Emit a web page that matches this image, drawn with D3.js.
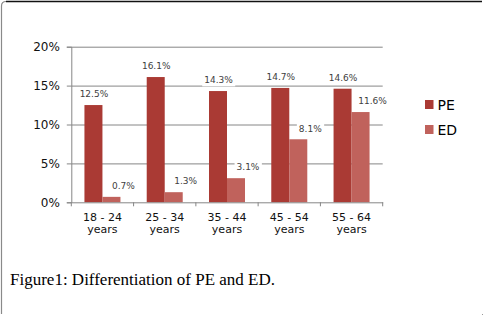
<!DOCTYPE html>
<html>
<head>
<meta charset="utf-8">
<script src="https://cdn.jsdelivr.net/npm/d3@7"></script>
<style>
  html, body { margin: 0; padding: 0; background: #fff; }
  svg { display: block; }
</style>
</head>
<body>
<svg id="chart"></svg>
<script>
const categories = ['18 - 24|years', '25 - 34|years', '35 - 44|years', '45 - 54|years', '55 - 64|years'];
const seriesNames = ['PE', 'ED'];
const peValues = [12.5, 16.1, 14.3, 14.7, 14.6];
const edValues = [0.7, 1.3, 3.1, 8.1, 11.6];
const yTicks = [0, 5, 10, 15, 20];
const caption = 'Figure1: Differentiation of PE and ED.';

const colors = { PE: '#aa3a34', ED: '#c0625c' };
const W = 484, H = 317;
const plot = { left: 71.3, right: 382.7, top: 46.7, bottom: 202.3 };

const svg = d3.select('#chart').attr('width', W).attr('height', H);

// frame (top + left edge of the figure box)
svg.append('path')
  .attr('d', 'M1.5,314 V6 Q1.5,1.5 6,1.5')
  .attr('fill', 'none').attr('stroke', '#8a8a8a').attr('stroke-width', 1.2);
svg.append('path')
  .attr('d', 'M6,1.5 H482')
  .attr('fill', 'none').attr('stroke', '#111').attr('stroke-width', 1.4);
svg.append('rect').attr('x', 482).attr('y', 314).attr('width', 1).attr('height', 1).attr('fill', '#999');

const rows = categories.map((c, i) => ({ cat: c, PE: peValues[i], ED: edValues[i] }));

const x0 = d3.scaleBand().domain(categories).range([plot.left, plot.right]).padding(0);
const x1 = d3.scaleBand().domain(seriesNames).range([0, x0.bandwidth()])
  .paddingInner(0).paddingOuter(0.73);
const y = d3.scaleLinear().domain([0, 20]).range([plot.bottom, plot.top]);

const axisColor = '#868686';

// gridlines + y axis
const yAxis = svg.append('g')
  .attr('transform', `translate(${plot.left},0)`)
  .call(d3.axisLeft(y).tickValues(yTicks).tickSize(4.5).tickPadding(7).tickFormat(d => d + '%'));
yAxis.select('.domain').attr('stroke', axisColor);
yAxis.selectAll('.tick line').attr('stroke', axisColor);
yAxis.selectAll('.tick text')
  .attr('fill', '#111').style('font-family', 'DejaVu Sans, Verdana, sans-serif').style('font-size', '12px');
yAxis.selectAll('.tick').filter(d => d > 0).append('line')
  .attr('x1', 0).attr('x2', plot.right - plot.left)
  .attr('stroke', axisColor).attr('stroke-width', 1);

// bars
const groups = svg.append('g').selectAll('g')
  .data(rows).join('g')
  .attr('transform', d => `translate(${x0(d.cat)},0)`);

groups.selectAll('rect')
  .data(d => seriesNames.map(k => ({ key: k, value: d[k] })))
  .join('rect')
  .attr('x', d => x1(d.key))
  .attr('y', d => y(d.value))
  .attr('width', x1.bandwidth())
  .attr('height', d => plot.bottom - y(d.value))
  .attr('fill', d => colors[d.key]);

// x axis
const xAxis = svg.append('g')
  .attr('transform', `translate(0,${plot.bottom})`)
  .call(d3.axisBottom(x0).tickSize(0).tickPadding(0).tickFormat(''));
xAxis.select('.domain').attr('stroke', axisColor);
xAxis.selectAll('.tick').remove();
const bounds = d3.range(categories.length + 1).map(i => plot.left + i * x0.step());
xAxis.selectAll('line.sep').data(bounds).join('line')
  .attr('class', 'sep')
  .attr('x1', d => d).attr('x2', d => d)
  .attr('y1', 0).attr('y2', 4)
  .attr('stroke', axisColor);
const catLabels = xAxis.selectAll('text.cat').data(categories).join('text')
  .attr('class', 'cat')
  .attr('x', d => x0(d) + x0.bandwidth() / 2)
  .attr('y', 18.5)
  .attr('text-anchor', 'middle')
  .attr('fill', '#111')
  .style('font-family', 'DejaVu Sans, Verdana, sans-serif')
  .style('font-size', '11px');
catLabels.selectAll('tspan').data(d => d.split('|')).join('tspan')
  .attr('x', function () { return d3.select(this.parentNode).attr('x'); })
  .attr('dy', (d, i) => i === 0 ? 0 : 12)
  .text(d => d);

// value labels
const labelShift = { PE: 0.5, ED: 12 };
groups.each(function (d) {
  const g = d3.select(this);
  seriesNames.forEach(k => {
    const cx = x1(k) + x1.bandwidth() / 2 + labelShift[k];
    const cy = y(d[k]) - 11;
    const lg = g.append('g');
    const t = lg.append('text')
      .attr('x', cx).attr('y', cy + 3.3)
      .attr('text-anchor', 'middle')
      .attr('fill', '#404040')
      .style('font-family', 'DejaVu Sans, Verdana, sans-serif')
      .style('font-size', '9px')
      .text(d[k].toFixed(1) + '%');
    const bb = t.node().getBBox();
    lg.insert('rect', 'text')
      .attr('x', bb.x - 2).attr('y', bb.y - 1)
      .attr('width', bb.width + 4).attr('height', bb.height + 2)
      .attr('fill', '#fff');
  });
});

// legend
const legend = svg.append('g').selectAll('g')
  .data(seriesNames).join('g')
  .attr('transform', (d, i) => `translate(425,${100 + i * 25})`);
legend.append('rect')
  .attr('width', 8.5).attr('height', 9)
  .attr('fill', d => colors[d]);
legend.append('text')
  .attr('x', 12.5).attr('y', 9.8)
  .attr('fill', '#000')
  .style('font-family', 'DejaVu Sans, Verdana, sans-serif')
  .style('font-size', '14px')
  .text(d => d);

// caption
svg.append('text')
  .attr('x', 10).attr('y', 285)
  .attr('fill', '#000')
  .style('font-family', 'Liberation Serif, Times New Roman, serif')
  .style('font-size', '17px')
  .text(caption);
</script>
</body>
</html>
